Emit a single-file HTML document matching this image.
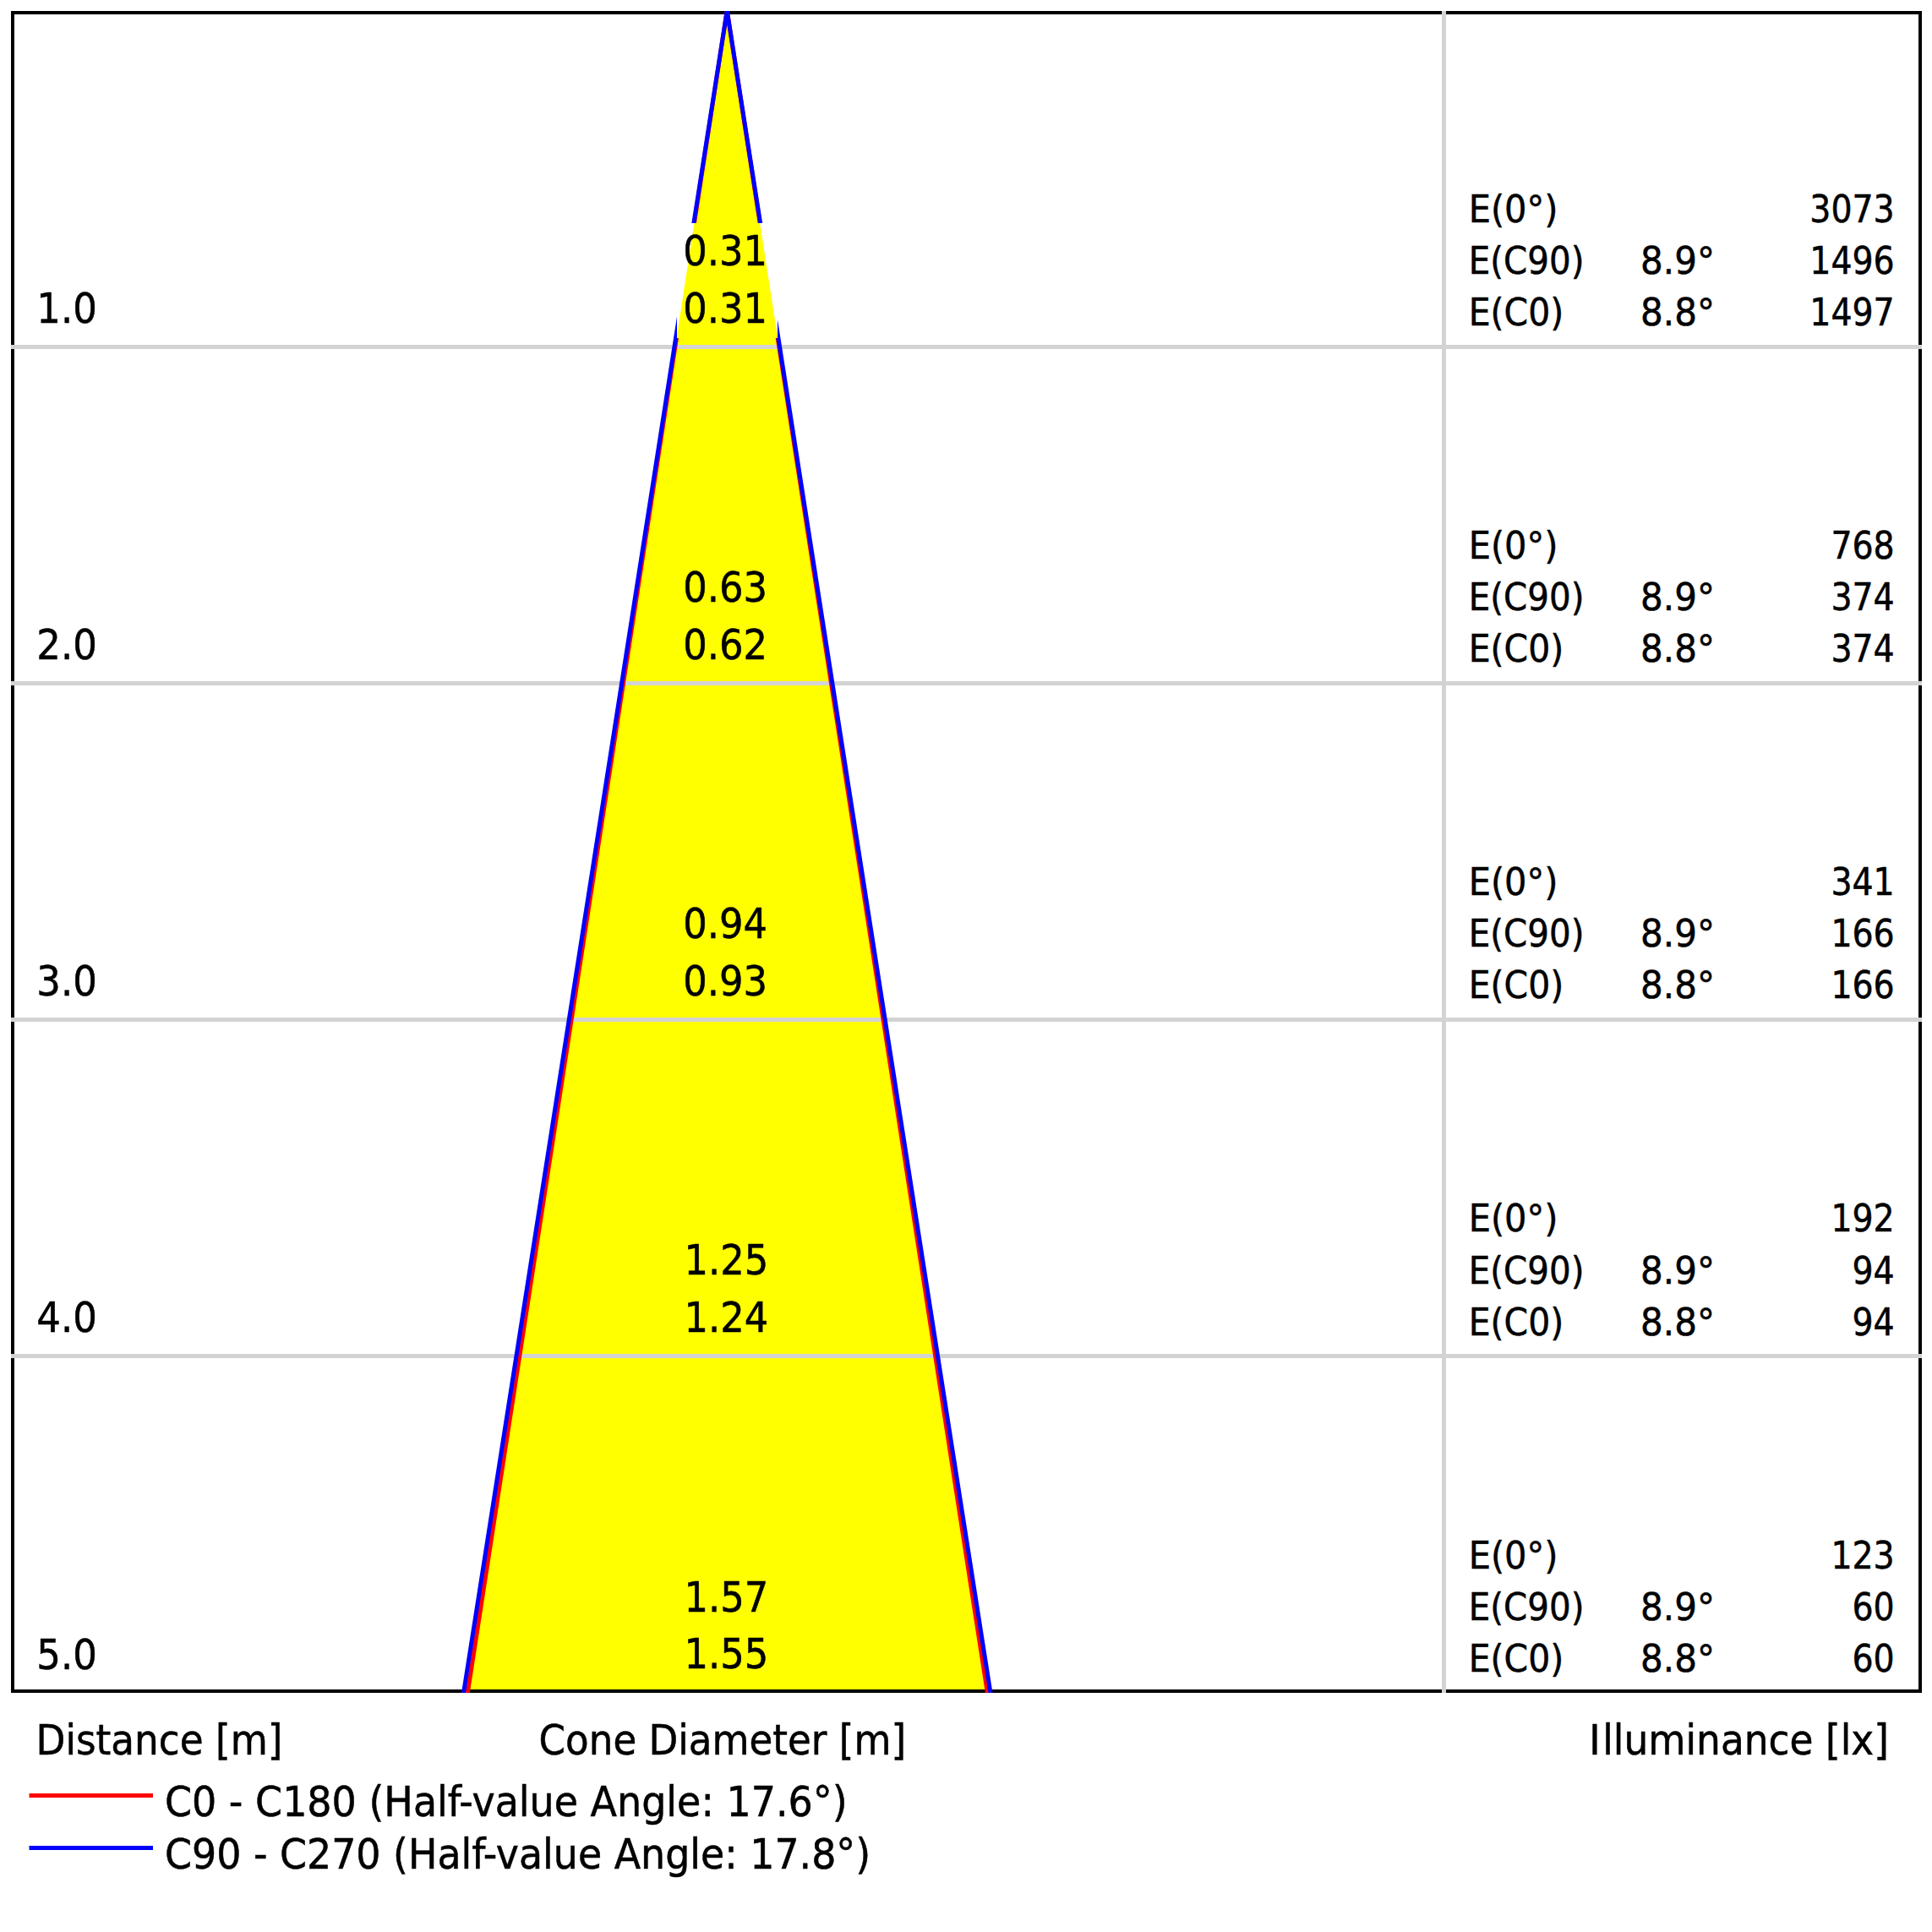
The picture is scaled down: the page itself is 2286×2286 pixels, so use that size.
<!DOCTYPE html>
<html lang="en"><head><meta charset="utf-8"><title>Cone Diagram</title>
<style>html,body{margin:0;padding:0;background:#fff;}svg{display:block;}text{font-family:'DejaVu Sans Condensed','DejaVu Sans','Liberation Sans',sans-serif;font-stretch:condensed;fill:#000;stroke:#000;stroke-width:0.5px;}.a{font-size:49.40px;}.b{font-size:44.90px;}</style></head><body>
<svg width="2286" height="2286" viewBox="0 0 2286 2286">
<defs><clipPath id="fr"><rect x="13" y="13" width="2261" height="1990"/></clipPath>
<clipPath id="tb"><rect x="801" y="264" width="119" height="136"/><rect x="801" y="662" width="119" height="136"/><rect x="801" y="1060" width="119" height="136"/><rect x="801" y="1459" width="119" height="136"/><rect x="801" y="1857" width="119" height="136"/></clipPath>
</defs>
<rect width="2286" height="2286" fill="#fff"/>
<polygon points="860.25,12.50 553.38,2002.50 1168.32,2002.50" fill="#ffff00" clip-path="url(#fr)"/>
<rect x="15" y="15" width="2257" height="1986" fill="none" stroke="#000" stroke-width="4"/>
<rect x="13" y="408" width="2261" height="5" fill="#d3d3d3"/>
<rect x="13" y="806" width="2261" height="5" fill="#d3d3d3"/>
<rect x="13" y="1204" width="2261" height="5" fill="#d3d3d3"/>
<rect x="13" y="1602" width="2261" height="5" fill="#d3d3d3"/>
<rect x="1706" y="13" width="5" height="1990" fill="#d3d3d3"/>
<g clip-path="url(#fr)" stroke="#ff0000" stroke-width="5" fill="none"><polyline points="550.30,2022.50 860.25,12.50 1171.41,2022.50" stroke-linejoin="miter" stroke-miterlimit="20"/></g>
<g clip-path="url(#fr)" stroke="#0000ff" stroke-width="5" fill="none"><polyline points="545.49,2022.50 860.25,12.50 1175.01,2022.50" stroke-linejoin="miter" stroke-miterlimit="20"/></g>
<g clip-path="url(#tb)"><rect x="700" y="200" width="320" height="1800" fill="#fff"/><polygon points="860.25,12.50 553.38,2002.50 1168.32,2002.50" fill="#ffff00"/></g>
<text id="d0" class="a" x="43.33" y="381.80" textLength="71.55" lengthAdjust="spacingAndGlyphs">1.0</text>
<text id="u0" class="a" x="858.20" y="313.80" text-anchor="middle" textLength="99.77" lengthAdjust="spacingAndGlyphs">0.31</text>
<text id="l0" class="a" x="858.20" y="381.60" text-anchor="middle" textLength="99.77" lengthAdjust="spacingAndGlyphs">0.31</text>
<text id="ea0" class="b" x="1737.69" y="262.80" textLength="105.72" lengthAdjust="spacingAndGlyphs">E(0°)</text>
<text id="eb0" class="b" x="1737.80" y="323.90" textLength="136.64" lengthAdjust="spacingAndGlyphs">E(C90)</text>
<text id="ec0" class="b" x="1737.75" y="384.90" textLength="112.43" lengthAdjust="spacingAndGlyphs">E(C0)</text>
<text id="aa0" class="b" x="1941.11" y="323.90" textLength="87.82" lengthAdjust="spacingAndGlyphs">8.9°</text>
<text id="ab0" class="b" x="1941.11" y="384.90" textLength="87.82" lengthAdjust="spacingAndGlyphs">8.8°</text>
<text id="na0" class="b" x="2241.74" y="262.80" text-anchor="end" textLength="100.44" lengthAdjust="spacingAndGlyphs">3073</text>
<text id="nb0" class="b" x="2241.74" y="323.90" text-anchor="end" textLength="100.44" lengthAdjust="spacingAndGlyphs">1496</text>
<text id="nc0" class="b" x="2241.74" y="384.90" text-anchor="end" textLength="100.44" lengthAdjust="spacingAndGlyphs">1497</text>
<text id="d1" class="a" x="43.33" y="780.00" textLength="71.55" lengthAdjust="spacingAndGlyphs">2.0</text>
<text id="u1" class="a" x="858.20" y="712.00" text-anchor="middle" textLength="99.77" lengthAdjust="spacingAndGlyphs">0.63</text>
<text id="l1" class="a" x="858.20" y="779.80" text-anchor="middle" textLength="99.77" lengthAdjust="spacingAndGlyphs">0.62</text>
<text id="ea1" class="b" x="1737.69" y="661.00" textLength="105.72" lengthAdjust="spacingAndGlyphs">E(0°)</text>
<text id="eb1" class="b" x="1737.80" y="722.10" textLength="136.64" lengthAdjust="spacingAndGlyphs">E(C90)</text>
<text id="ec1" class="b" x="1737.75" y="783.10" textLength="112.43" lengthAdjust="spacingAndGlyphs">E(C0)</text>
<text id="aa1" class="b" x="1941.11" y="722.10" textLength="87.82" lengthAdjust="spacingAndGlyphs">8.9°</text>
<text id="ab1" class="b" x="1941.11" y="783.10" textLength="87.82" lengthAdjust="spacingAndGlyphs">8.8°</text>
<text id="na1" class="b" x="2241.74" y="661.00" text-anchor="end" textLength="75.33" lengthAdjust="spacingAndGlyphs">768</text>
<text id="nb1" class="b" x="2241.74" y="722.10" text-anchor="end" textLength="75.33" lengthAdjust="spacingAndGlyphs">374</text>
<text id="nc1" class="b" x="2241.74" y="783.10" text-anchor="end" textLength="75.33" lengthAdjust="spacingAndGlyphs">374</text>
<text id="d2" class="a" x="43.33" y="1178.20" textLength="71.55" lengthAdjust="spacingAndGlyphs">3.0</text>
<text id="u2" class="a" x="858.20" y="1110.20" text-anchor="middle" textLength="99.77" lengthAdjust="spacingAndGlyphs">0.94</text>
<text id="l2" class="a" x="858.20" y="1178.00" text-anchor="middle" textLength="99.77" lengthAdjust="spacingAndGlyphs">0.93</text>
<text id="ea2" class="b" x="1737.69" y="1059.20" textLength="105.72" lengthAdjust="spacingAndGlyphs">E(0°)</text>
<text id="eb2" class="b" x="1737.80" y="1120.30" textLength="136.64" lengthAdjust="spacingAndGlyphs">E(C90)</text>
<text id="ec2" class="b" x="1737.75" y="1181.30" textLength="112.43" lengthAdjust="spacingAndGlyphs">E(C0)</text>
<text id="aa2" class="b" x="1941.11" y="1120.30" textLength="87.82" lengthAdjust="spacingAndGlyphs">8.9°</text>
<text id="ab2" class="b" x="1941.11" y="1181.30" textLength="87.82" lengthAdjust="spacingAndGlyphs">8.8°</text>
<text id="na2" class="b" x="2241.74" y="1059.20" text-anchor="end" textLength="75.33" lengthAdjust="spacingAndGlyphs">341</text>
<text id="nb2" class="b" x="2241.74" y="1120.30" text-anchor="end" textLength="75.33" lengthAdjust="spacingAndGlyphs">166</text>
<text id="nc2" class="b" x="2241.74" y="1181.30" text-anchor="end" textLength="75.33" lengthAdjust="spacingAndGlyphs">166</text>
<text id="d3" class="a" x="43.33" y="1576.40" textLength="71.55" lengthAdjust="spacingAndGlyphs">4.0</text>
<text id="u3" class="a" x="859.50" y="1508.40" text-anchor="middle" textLength="99.77" lengthAdjust="spacingAndGlyphs">1.25</text>
<text id="l3" class="a" x="859.50" y="1576.20" text-anchor="middle" textLength="99.77" lengthAdjust="spacingAndGlyphs">1.24</text>
<text id="ea3" class="b" x="1737.69" y="1457.40" textLength="105.72" lengthAdjust="spacingAndGlyphs">E(0°)</text>
<text id="eb3" class="b" x="1737.80" y="1518.50" textLength="136.64" lengthAdjust="spacingAndGlyphs">E(C90)</text>
<text id="ec3" class="b" x="1737.75" y="1579.50" textLength="112.43" lengthAdjust="spacingAndGlyphs">E(C0)</text>
<text id="aa3" class="b" x="1941.11" y="1518.50" textLength="87.82" lengthAdjust="spacingAndGlyphs">8.9°</text>
<text id="ab3" class="b" x="1941.11" y="1579.50" textLength="87.82" lengthAdjust="spacingAndGlyphs">8.8°</text>
<text id="na3" class="b" x="2241.74" y="1457.40" text-anchor="end" textLength="75.33" lengthAdjust="spacingAndGlyphs">192</text>
<text id="nb3" class="b" x="2241.74" y="1518.50" text-anchor="end" textLength="50.23" lengthAdjust="spacingAndGlyphs">94</text>
<text id="nc3" class="b" x="2241.74" y="1579.50" text-anchor="end" textLength="50.23" lengthAdjust="spacingAndGlyphs">94</text>
<text id="d4" class="a" x="43.33" y="1974.60" textLength="71.55" lengthAdjust="spacingAndGlyphs">5.0</text>
<text id="u4" class="a" x="859.50" y="1906.60" text-anchor="middle" textLength="99.77" lengthAdjust="spacingAndGlyphs">1.57</text>
<text id="l4" class="a" x="859.50" y="1974.40" text-anchor="middle" textLength="99.77" lengthAdjust="spacingAndGlyphs">1.55</text>
<text id="ea4" class="b" x="1737.69" y="1855.60" textLength="105.72" lengthAdjust="spacingAndGlyphs">E(0°)</text>
<text id="eb4" class="b" x="1737.80" y="1916.70" textLength="136.64" lengthAdjust="spacingAndGlyphs">E(C90)</text>
<text id="ec4" class="b" x="1737.75" y="1977.70" textLength="112.43" lengthAdjust="spacingAndGlyphs">E(C0)</text>
<text id="aa4" class="b" x="1941.11" y="1916.70" textLength="87.82" lengthAdjust="spacingAndGlyphs">8.9°</text>
<text id="ab4" class="b" x="1941.11" y="1977.70" textLength="87.82" lengthAdjust="spacingAndGlyphs">8.8°</text>
<text id="na4" class="b" x="2241.74" y="1855.60" text-anchor="end" textLength="75.33" lengthAdjust="spacingAndGlyphs">123</text>
<text id="nb4" class="b" x="2241.74" y="1916.70" text-anchor="end" textLength="50.23" lengthAdjust="spacingAndGlyphs">60</text>
<text id="nc4" class="b" x="2241.74" y="1977.70" text-anchor="end" textLength="50.23" lengthAdjust="spacingAndGlyphs">60</text>
<text id="tD" class="a" x="42.52" y="2075.50" textLength="291.93" lengthAdjust="spacingAndGlyphs">Distance [m]</text>
<text id="tC" class="a" x="637.57" y="2075.50" textLength="434.47" lengthAdjust="spacingAndGlyphs">Cone Diameter [m]</text>
<text id="tI" class="a" x="2232.43" y="2075.50" text-anchor="end" textLength="354.75" lengthAdjust="spacingAndGlyphs" dx="2.5 2.5">Illuminance [lx]</text>
<rect x="34.5" y="2122" width="146.5" height="5" fill="#ff0000"/>
<rect x="34.5" y="2184" width="146.5" height="5" fill="#0000ff"/>
<text id="L1" class="a" x="194.93" y="2149.30" textLength="807.77" lengthAdjust="spacingAndGlyphs">C0 - C180 (Half-value Angle: 17.6°)</text>
<text id="L2" class="a" x="194.94" y="2211.40" textLength="835.20" lengthAdjust="spacingAndGlyphs">C90 - C270 (Half-value Angle: 17.8°)</text>
</svg></body></html>
